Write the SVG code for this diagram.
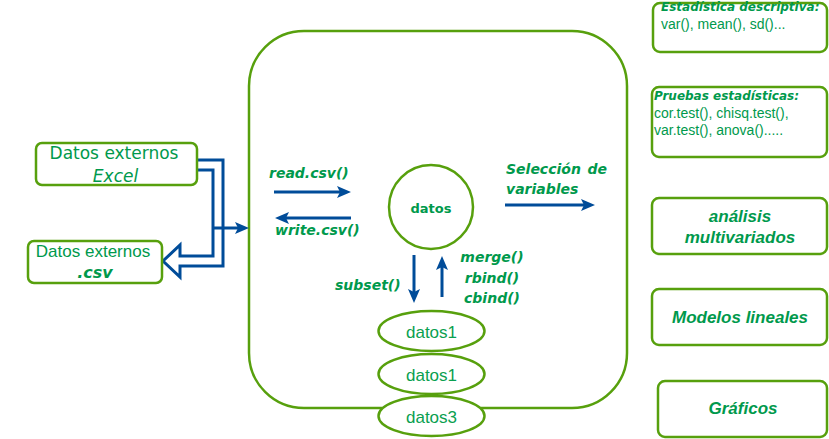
<svg xmlns="http://www.w3.org/2000/svg" width="829" height="439" viewBox="0 0 829 439">
<defs>
<style>
.box{fill:#fff;stroke:#57A00D;stroke-width:2.5}
.conn{fill:none;stroke:#004C99;stroke-width:3}
.lbl{font-family:"DejaVu Sans",Verdana,sans-serif;font-weight:bold;font-style:italic;font-size:14px;fill:#00994C}
.ar{font-family:"Liberation Sans",Arial,sans-serif;fill:#00994C}
.arbi{font-family:"Liberation Sans",Arial,sans-serif;font-weight:bold;font-style:italic;font-size:17px;fill:#00994C}
.dv{font-family:"DejaVu Sans",Verdana,sans-serif;fill:#00994C}
.ell{font-family:"Liberation Sans",Arial,sans-serif;font-size:17px;fill:#0AA050}
</style>
<marker id="ah" viewBox="0 0 14 12" markerWidth="14" markerHeight="12" refX="3" refY="6" orient="auto" markerUnits="userSpaceOnUse">
<path d="M0,0 L14,6 L0,12 L3,6 Z" fill="#004C99"/>
</marker>
</defs>

<g id="main">
<rect class="box" x="249" y="31" width="378" height="377" rx="55" ry="55"/>
</g>

<g id="connectors">
<path d="M197,160 H223 V266 H180 V277 L163,261 L180,245 V256 H213 V170 H197" fill="#fff" stroke="#004C99" stroke-width="3"/>
<path class="conn" d="M213,228 H238" marker-end="url(#ah)"/>
<path class="conn" d="M274,192 H340" marker-end="url(#ah)"/>
<path class="conn" d="M351,218 H286" marker-end="url(#ah)"/>
<path class="conn" d="M505,205 H584" marker-end="url(#ah)"/>
<path class="conn" d="M414,255 V292" marker-end="url(#ah)"/>
<path class="conn" d="M442,297 V267" marker-end="url(#ah)"/>
<text class="lbl" x="269" y="178">read.csv()</text>
<text class="lbl" x="275" y="235">write.csv()</text>
<text class="lbl" x="506" y="174">Selección</text>
<text class="lbl" x="607" y="174" text-anchor="end">de</text>
<text class="lbl" x="506" y="194">variables</text>
<text class="lbl" x="335" y="290">subset()</text>
<text class="lbl" x="492" y="262" text-anchor="middle">merge()</text>
<text class="lbl" x="492" y="283" text-anchor="middle">rbind()</text>
<text class="lbl" x="492" y="303" text-anchor="middle">cbind()</text>
</g>

<g id="excel">
<rect class="box" x="36" y="143" width="161" height="42" rx="6"/>
<text class="dv" x="114" y="159" font-size="17" text-anchor="middle">Datos externos</text>
<text class="dv" x="115.5" y="182" font-size="17" font-style="italic" text-anchor="middle">Excel</text>
</g>

<g id="csv">
<rect class="box" x="28" y="241" width="134" height="42" rx="6"/>
<text class="ar" x="93" y="257" font-size="17" text-anchor="middle">Datos externos</text>
<text class="dv" x="95" y="278" font-size="16" font-weight="bold" font-style="italic" text-anchor="middle">.csv</text>
</g>

<g id="datos">
<circle class="box" cx="431" cy="207" r="42"/>
<text class="dv" x="431" y="213" font-size="13" font-weight="bold" text-anchor="middle">datos</text>
</g>

<g id="datos1a">
<ellipse class="box" cx="431.5" cy="331" rx="53" ry="20"/>
<text class="ell" x="431.5" y="338" text-anchor="middle">datos1</text>
</g>
<g id="datos1b">
<ellipse class="box" cx="431.5" cy="374" rx="53" ry="20"/>
<text class="ell" x="431.5" y="381" text-anchor="middle">datos1</text>
</g>
<g id="datos3">
<ellipse class="box" cx="431.5" cy="416" rx="53" ry="20"/>
<text class="ell" x="431.5" y="423" text-anchor="middle">datos3</text>
</g>

<g id="descriptiva">
<rect class="box" x="653" y="3" width="174" height="49" rx="7"/>
<text class="dv" x="661" y="11" font-size="12" font-weight="bold" font-style="italic">Estadística descriptiva:</text>
<text class="ar" x="661" y="29" font-size="14">var(), mean(), sd()...</text>
</g>

<g id="pruebas">
<rect class="box" x="652" y="87" width="175" height="70" rx="7"/>
<text class="dv" x="654" y="100" font-size="12" font-weight="bold" font-style="italic">Pruebas estadísticas:</text>
<text class="ar" x="654" y="118" font-size="14">cor.test(), chisq.test(),</text>
<text class="ar" x="654" y="135" font-size="14">var.test(), anova().....</text>
</g>

<g id="multivariados">
<rect class="box" x="652" y="198" width="175" height="56" rx="7"/>
<text class="arbi" x="740" y="222" text-anchor="middle">análisis</text>
<text class="arbi" x="740" y="243" text-anchor="middle">multivariados</text>
</g>

<g id="modelos">
<rect class="box" x="652" y="289" width="175" height="56" rx="7"/>
<text class="arbi" x="740" y="323" text-anchor="middle">Modelos lineales</text>
</g>

<g id="graficos">
<rect class="box" x="658" y="381" width="169" height="56" rx="7"/>
<text class="arbi" x="743" y="414" text-anchor="middle">Gráficos</text>
</g>
</svg>
